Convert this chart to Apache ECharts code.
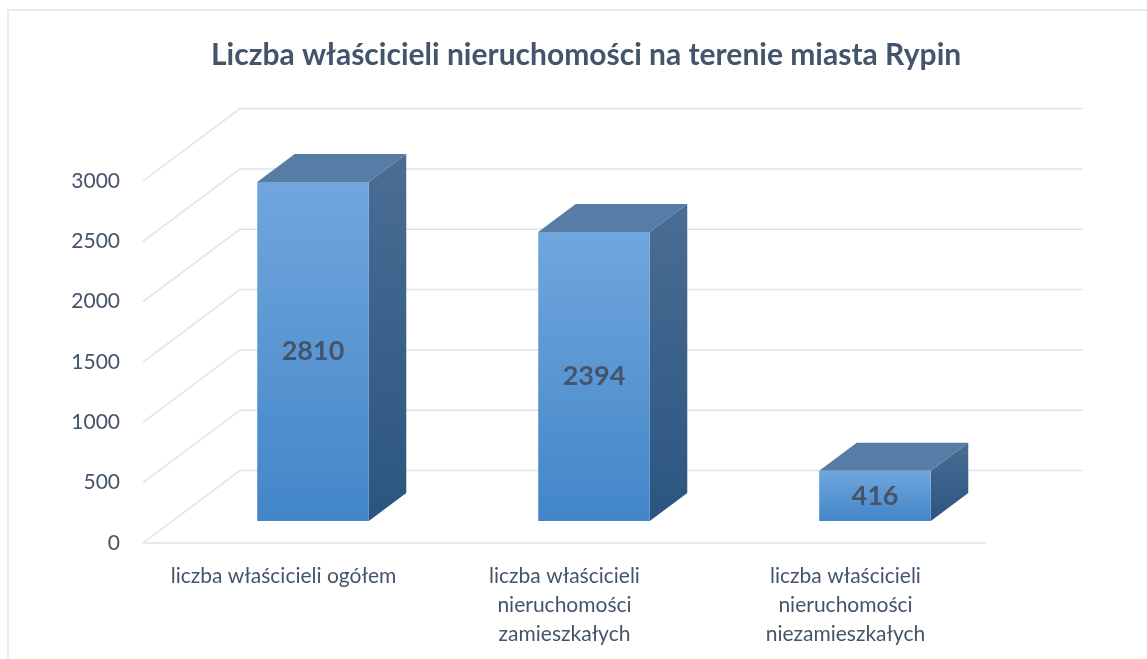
<!DOCTYPE html>
<html>
<head>
<meta charset="utf-8">
<script src="https://cdn.jsdelivr.net/npm/echarts@6/dist/echarts.min.js"></script>
<style>
  html, body { margin: 0; padding: 0; background: #fff; }
  #chart { width: 1147px; height: 659px; }
</style>
</head>
<body>
<div id="chart"></div>
<script>
var titleText = 'Liczba właścicieli nieruchomości na terenie miasta Rypin';
var categories = [
  'liczba właścicieli ogółem',
  'liczba właścicieli\nnieruchomości\nzamieszkałych',
  'liczba właścicieli\nnieruchomości\nniezamieszkałych'
];
var values = [2810, 2394, 416];
var yTicks = [0, 500, 1000, 1500, 2000, 2500, 3000];

var FONT = 'Lato';
var TEXT = '#44546a';
var GRID = '#e0e3ea';
// perspective offsets (px) for the back wall and the bar faces
var DEPTH = [97, -72.4];
var BAR_FRONT = [29.5, -22];
var BAR_BACK = [67, -50];

var myChart = echarts.init(document.getElementById('chart'));

function renderGrid(params, api) {
  var cs = params.coordSys;
  var v = api.value(1);
  var p = api.coord([0, v]);
  var y = p[1];
  var x0 = cs.x, x1 = cs.x + cs.width;
  var children = [{
    type: 'polyline',
    shape: { points: [[x0, y], [x0 + DEPTH[0], y + DEPTH[1]], [x1 + DEPTH[0], y + DEPTH[1]]] },
    style: { stroke: GRID, lineWidth: 1.5, fill: null }
  }];
  if (v === 0) {
    children.push({
      type: 'line',
      shape: { x1: x0, y1: y, x2: x1, y2: y },
      style: { stroke: GRID, lineWidth: 1.5 }
    });
  }
  return { type: 'group', children: children };
}

function renderBar(params, api) {
  var idx = api.value(0);
  var val = api.value(1);
  var base = api.coord([idx, 0]);
  var top = api.coord([idx, val]);
  var w = api.size([1, 0])[0] * 0.397;
  var xl = base[0] + BAR_FRONT[0] - w / 2;
  var xr = xl + w;
  var yb = base[1] + BAR_FRONT[1];
  var yt = top[1] + BAR_FRONT[1];
  var ox = BAR_BACK[0] - BAR_FRONT[0], oy = BAR_BACK[1] - BAR_FRONT[1];
  return {
    type: 'group',
    children: [
      {
        type: 'polygon',
        shape: { points: [[xr, yt], [xr + ox, yt + oy], [xr + ox, yb + oy], [xr, yb]] },
        style: { fill: new echarts.graphic.LinearGradient(0, 0, 0, 1, [
          { offset: 0, color: '#4a6d94' }, { offset: 1, color: '#2b5580' }]) }
      },
      {
        type: 'polygon',
        shape: { points: [[xl, yt], [xl + ox, yt + oy], [xr + ox, yt + oy], [xr, yt]] },
        style: { fill: '#577ca5' }
      },
      {
        type: 'rect',
        shape: { x: xl, y: yt, width: w, height: yb - yt },
        style: { fill: new echarts.graphic.LinearGradient(0, 0, 0, 1, [
          { offset: 0, color: '#71a6dd' }, { offset: 1, color: '#4286c8' }]) }
      },
      {
        type: 'text',
        x: (xl + xr) / 2,
        y: (yt + yb) / 2,
        style: {
          text: String(val), fill: TEXT, fontFamily: FONT, fontWeight: 'bold',
          fontSize: 27, align: 'center', verticalAlign: 'middle'
        }
      }
    ]
  };
}

myChart.setOption({
  animation: false,
  backgroundColor: '#fff',
  title: {
    text: titleText,
    left: 206,
    top: 35,
    textStyle: { color: TEXT, fontFamily: FONT, fontWeight: 'bold', fontSize: 30 }
  },
  graphic: [{
    type: 'rect',
    shape: { x: 8, y: 10, width: 1200, height: 700 },
    style: { fill: null, stroke: '#e1e4ea', lineWidth: 1.5 },
    z: -10
  }],
  grid: { left: 143, right: 161, top: 181, bottom: 116 },
  xAxis: {
    type: 'category',
    data: categories,
    axisLine: { show: false },
    axisTick: { show: false },
    axisLabel: {
      color: TEXT, fontFamily: FONT, fontSize: 21, lineHeight: 29, margin: 19,
      interval: 0
    }
  },
  yAxis: {
    type: 'value',
    min: 0,
    max: 3000,
    interval: 500,
    splitLine: { show: false },
    axisLine: { show: false },
    axisTick: { show: false },
    axisLabel: {
      color: TEXT, fontFamily: FONT, fontSize: 21, margin: 23,
      formatter: function (v) { return String(v); }
    }
  },
  series: [
    {
      type: 'custom',
      z: 1,
      silent: true,
      renderItem: renderGrid,
      data: yTicks.map(function (v) { return [0, v]; })
    },
    {
      type: 'custom',
      z: 2,
      renderItem: renderBar,
      data: values.map(function (v, i) { return [i, v]; })
    }
  ]
});

window.onresize = function () {
  myChart.resize();
};
</script>
</body>
</html>
